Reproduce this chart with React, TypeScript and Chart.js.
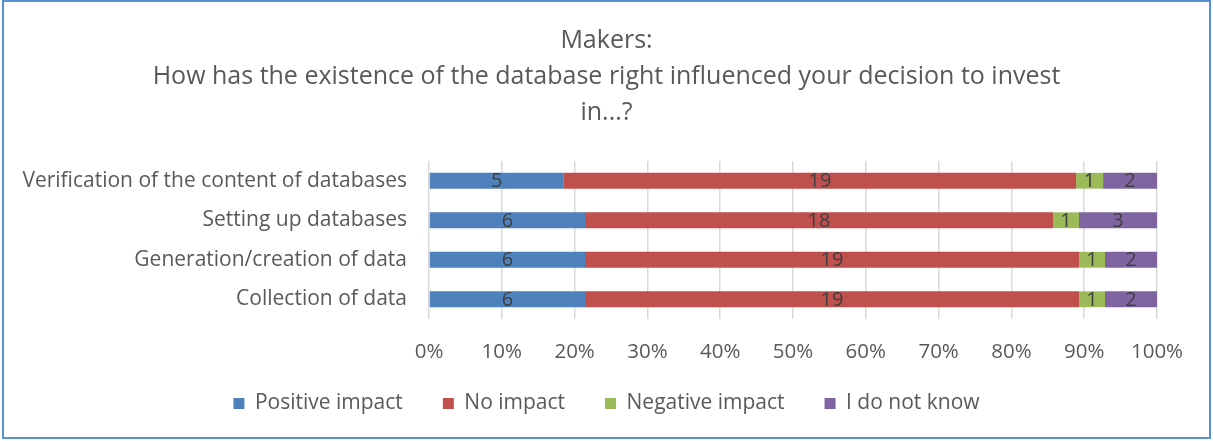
import React, { useEffect, useRef } from "react";
import { Chart, registerables } from "chart.js";

Chart.register(...registerables);

const categories = [
  "Verification of the content of databases",
  "Setting up databases",
  "Generation/creation of data",
  "Collection of data",
];
const seriesNames = ["Positive impact", "No impact", "Negative impact", "I do not know"];
const positiveImpact = [5, 6, 6, 6];
const noImpact = [19, 18, 19, 19];
const negativeImpact = [1, 1, 1, 1];
const doNotKnow = [2, 3, 2, 2];
const seriesColors = ["#4F81BD", "#C0504D", "#9BBB59", "#8064A2"];
const tickValues = [0, 10, 20, 30, 40, 50, 60, 70, 80, 90, 100];
const titleLines = [
  "Makers:",
  "How has the existence of the database right influenced your decision to invest",
  "in...?",
];

const FONT = "'Open Sans', sans-serif";

const allCounts = [positiveImpact, noImpact, negativeImpact, doNotKnow];
const totals = categories.map((_, i) => allCounts.reduce((s, arr) => s + arr[i], 0));

const labelsPlugin = {
  id: "segmentLabels",
  afterDatasetsDraw(chart: any) {
    const ctx = chart.ctx;
    ctx.save();
    ctx.font = `20px ${FONT}`;
    ctx.fillStyle = "#404040";
    ctx.textAlign = "center";
    ctx.textBaseline = "middle";
    chart.data.datasets.forEach((ds: any, di: number) => {
      const meta = chart.getDatasetMeta(di);
      meta.data.forEach((bar: any, i: number) => {
        const cx = (bar.x + bar.base) / 2;
        ctx.fillText(String(ds.counts[i]), cx, bar.y + 1);
      });
    });
    ctx.restore();
  },
};

const legendShiftPlugin = {
  id: "legendShift",
  afterLayout(chart: any) {
    const lg = chart.legend;
    if (lg) {
      lg.top -= 12;
      lg.bottom -= 12;
    }
  },
};

const borderPlugin = {
  id: "outerBorder",
  afterDraw(chart: any) {
    const ctx = chart.ctx;
    ctx.save();
    ctx.strokeStyle = "#5B8FD3";
    ctx.lineWidth = 2;
    ctx.strokeRect(3, 1, 1207, 437);
    ctx.restore();
  },
};

export default function App() {
  const ref = useRef<HTMLCanvasElement>(null);
  useEffect(() => {
    if (!ref.current) return;
    const chart = new Chart(ref.current, {
      type: "bar",
      data: {
        labels: categories,
        datasets: allCounts.map((arr, k) => ({
          label: seriesNames[k],
          data: arr.map((v, i) => (v / totals[i]) * 100),
          counts: arr,
          backgroundColor: seriesColors[k],
          borderWidth: 0,
          barPercentage: 0.8,
          categoryPercentage: 0.5,
        })) as any,
      },
      options: {
        indexAxis: "y",
        animation: false,
        responsive: false,
        maintainAspectRatio: false,
        layout: { padding: { left: 15, right: 15, top: 19, bottom: 5 } },
        plugins: {
          title: {
            display: true,
            text: titleLines,
            color: "#595959",
            font: { family: FONT, size: 25, weight: "normal", lineHeight: 1.44 },
            padding: { top: 4, bottom: 30 },
          },
          legend: {
            position: "bottom",
            labels: {
              color: "#595959",
              font: { family: FONT, size: 21 },
              boxWidth: 11,
              boxHeight: 11,
              padding: 40,
            },
          },
          tooltip: { enabled: false },
        },
        scales: {
          x: {
            stacked: true,
            min: 0,
            max: 100,
            afterBuildTicks(scale: any) {
              scale.ticks = tickValues.map((v) => ({ value: v }));
            },
            afterFit(scale: any) {
              scale.height = 46;
            },
            ticks: {
              color: "#595959",
              font: { family: FONT, size: 20.5 },
              padding: 21,
              maxRotation: 0,
              callback: (v: any) => `${v}%`,
            },
            grid: { color: "#D9D9D9", drawTicks: false, lineWidth: 1.5 },
            border: { display: false },
          },
          y: {
            stacked: true,
            afterFit(scale: any) {
              scale.width = 429 - 15;
            },
            ticks: {
              color: "#595959",
              font: { family: FONT, size: 21 },
              padding: 22,
            },
            grid: { display: false, drawTicks: false },
            border: { display: false },
          },
          yRight: {
            type: "category",
            position: "right",
            labels: categories,
            afterFit(scale: any) {
              scale.width = 1213 - 15 - 1157;
            },
            ticks: { display: false },
            grid: { display: false, drawTicks: false },
            border: { display: false },
          },
        },
      },
      plugins: [labelsPlugin, legendShiftPlugin, borderPlugin],
    });
    return () => chart.destroy();
  }, []);
  return (
    <div style={{ position: "absolute", left: 0, top: 0, width: 1213, height: 441, background: "#fff" }}>
      <canvas ref={ref} width={1213} height={441} style={{ width: 1213, height: 441 }} />
    </div>
  );
}
